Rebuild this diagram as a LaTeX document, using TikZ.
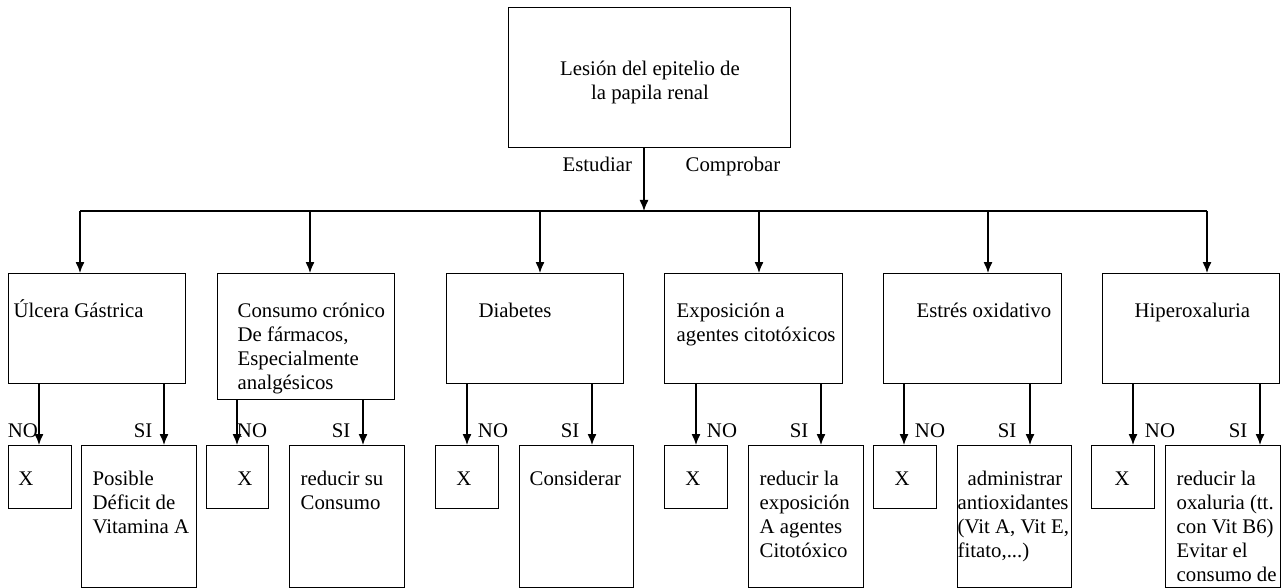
\documentclass[tikz,border=0pt]{standalone}
\usepackage{fontspec}
\setmainfont{Liberation Serif}
\usetikzlibrary{arrows.meta}

\tikzset{
	caja/.style={draw, rectangle, inner sep=0pt, anchor=north west},
	texto/.style={anchor=base west, inner sep=0pt, align=left},
	rama/.style={anchor=base, inner sep=0pt},
}

\begin{document}
\begin{tikzpicture}[x=1pt, y=-1pt, line width=1.3pt, >={Latex[length=11pt,width=9pt]}, font=\fontsize{20.8}{24}\selectfont]
	\useasboundingbox (0,0) rectangle (1282,588);
	%%%	Lesion (texto multilinea: base = ultima linea)
	\node[caja, minimum width=282pt, minimum height=140pt] (lesion) at (508,7) {};
	\node[texto, align=center, anchor=base] (lesiont) at (650,100) {Lesión del epitelio de\\la papila renal};
	\node[texto] (estudiar) at (562,172) {Estudiar};
	\node[texto] (comprobar) at (685,172) {Comprobar};
	\coordinate (hub) at (644,211);
	\draw[->] (lesion.south -| hub) -- (hub);
	
	% Linea de reparto
	\coordinate (h1) at (80,211);
	\coordinate (h2) at (310,211);
	\coordinate (h3) at (540,211);
	\coordinate (h4) at (759,211);
	\coordinate (h5) at (988,211);
	\coordinate (h6) at (1207,211);
	\draw (h1) -- (h6);
	
	% Ulcera
	\node[caja, minimum width=177pt, minimum height=110pt] (ulcera) at (8,273) {};
	\node[texto] (ulcerat) at (13,317) {Úlcera Gástrica};
	\draw[->] (h1) -- (ulcera.north -| h1);
	\node[caja, minimum width=63pt, minimum height=63pt] (xa) at (8,445) {};
	\node[caja, minimum width=115pt, minimum height=142pt] (sia) at (81,445) {};
	\node[rama] (xat) at (26,485) {X};
	\node[texto] (siat) at (92,533) {Posible\\Déficit de\\Vitamina A};
	\draw[->] (ulcera.south -| 39,0) -- (xa.north -| 39,0);
	\draw[->] (ulcera.south -| 164,0) -- (sia.north -| 164,0);
	\node[rama] (noa) at (23,437) {NO};
	\node[rama] (sial) at (143,437) {SI};
	
	% Consumo
	\node[caja, minimum width=177pt, minimum height=126pt] (consumo) at (217,273) {};
	\node[texto] (consumot) at (237,389) {Consumo crónico\\De fármacos,\\Especialmente\\analgésicos};
	\draw[->] (h2) -- (consumo.north -| h2);
	\node[caja, minimum width=62pt, minimum height=63pt] (xb) at (206,445) {};
	\node[caja, minimum width=115pt, minimum height=142pt] (sib) at (289,445) {};
	\node[rama] (xbt) at (245,485) {X};
	\node[texto] (sibt) at (300,509) {reducir su\\Consumo};
	\draw[->] (consumo.south -| 237,0) -- (xb.north -| 237,0);
	\draw[->] (consumo.south -| 363,0) -- (sib.north -| 363,0);
	\node[rama] (nob) at (252,437) {NO};
	\node[rama] (sibl) at (341,437) {SI};
	
	% Diabetes
	\node[caja, minimum width=177pt, minimum height=110pt] (diabetes) at (446,273) {};
	\node[texto] (diabetest) at (478,317) {Diabetes};
	\draw[->] (h3) -- (diabetes.north -| h3);
	\node[caja, minimum width=63pt, minimum height=63pt] (xc) at (435,445) {};
	\node[caja, minimum width=114pt, minimum height=142pt] (sic) at (519,445) {};
	\node[rama] (xct) at (464,485) {X};
	\node[texto] (sict) at (529,485) {Considerar};
	\draw[->] (diabetes.south -| 467,0) -- (xc.north -| 467,0);
	\draw[->] (diabetes.south -| 592,0) -- (sic.north -| 592,0);
	\node[rama] (noc) at (493,437) {NO};
	\node[rama] (sicl) at (570,437) {SI};
	
	% Exposicion
	\node[caja, minimum width=178pt, minimum height=110pt] (exposicion) at (664,273) {};
	\node[texto] (exposiciont) at (676,341) {Exposición a\\agentes citotóxicos};
	\draw[->] (h4) -- (exposicion.north -| h4);
	\node[caja, minimum width=63pt, minimum height=63pt] (xd) at (664,445) {};
	\node[caja, minimum width=115pt, minimum height=142pt] (sid) at (748,445) {};
	\node[rama] (xdt) at (693,485) {X};
	\node[texto] (sidt) at (759,557) {reducir la\\exposición\\A agentes\\Citotóxico};
	\draw[->] (exposicion.south -| 696,0) -- (xd.north -| 696,0);
	\draw[->] (exposicion.south -| 821,0) -- (sid.north -| 821,0);
	\node[rama] (nod) at (722,437) {NO};
	\node[rama] (sidl) at (799,437) {SI};
	
	% Estres
	\node[caja, minimum width=178pt, minimum height=110pt] (estres) at (883,273) {};
	\node[texto] (estrest) at (916,317) {Estrés oxidativo};
	\draw[->] (h5) -- (estres.north -| h5);
	\node[caja, minimum width=63pt, minimum height=63pt] (xe) at (873,445) {};
	\node[caja, minimum width=114pt, minimum height=142pt] (sie) at (957,445) {};
	\node[rama] (xet) at (902,485) {X};
	\node[texto] (siet) at (957,557) {\hspace*{10pt}administrar\\antioxidantes\\(Vit A, Vit E,\\fitato,...)};
	\draw[->] (estres.south -| 904,0) -- (xe.north -| 904,0);
	\draw[->] (estres.south -| 1030,0) -- (sie.north -| 1030,0);
	\node[rama] (noe) at (930,437) {NO};
	\node[rama] (siel) at (1007,437) {SI};
	
	% Hiperoxaluria
	\node[caja, minimum width=177pt, minimum height=110pt] (hiper) at (1102,273) {};
	\node[texto] (hipert) at (1134,317) {Hiperoxaluria};
	\draw[->] (h6) -- (hiper.north -| h6);
	\node[caja, minimum width=63pt, minimum height=63pt] (xf) at (1091,445) {};
	\node[caja, minimum width=115pt, minimum height=142pt] (sif) at (1165,445) {};
	\node[rama] (xft) at (1122,485) {X};
	\node[texto] (sift) at (1176,581) {reducir la\\oxaluria (tt.\\con Vit B6)\\Evitar el\\consumo de};
	\draw[->] (hiper.south -| 1133,0) -- (xf.north -| 1133,0);
	\draw[->] (hiper.south -| 1260,0) -- (sif.north -| 1260,0);
	\node[rama] (nof) at (1160,437) {NO};
	\node[rama] (sifl) at (1238,437) {SI};
	
\end{tikzpicture}
\end{document}
